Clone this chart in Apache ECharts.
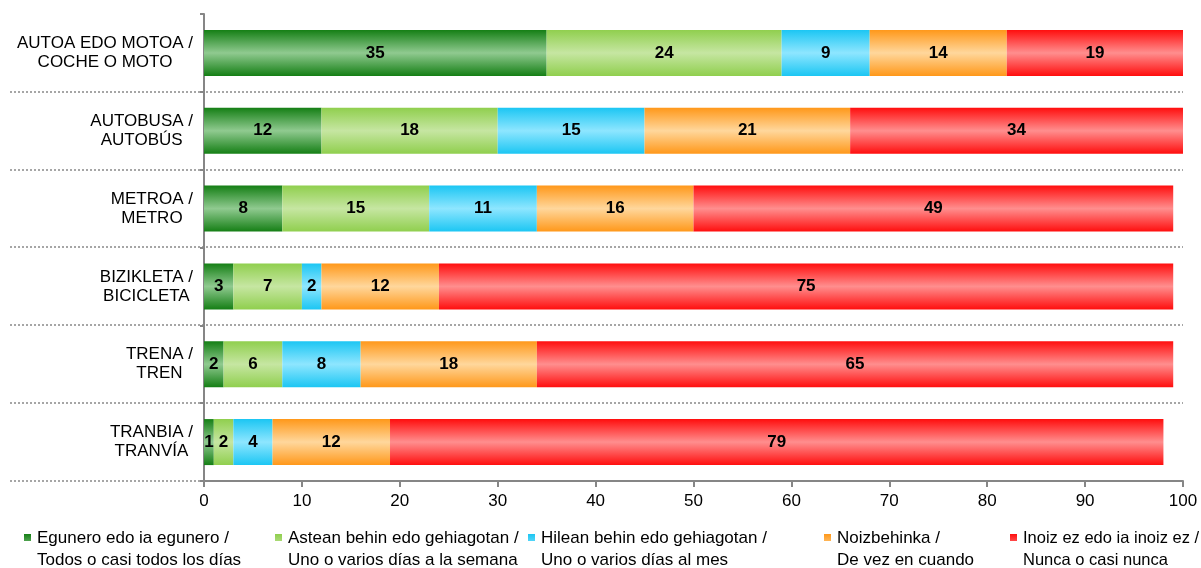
<!DOCTYPE html>
<html>
<head>
<meta charset="utf-8">
<script src="https://cdn.jsdelivr.net/npm/echarts@6/dist/echarts.min.js"></script>
<style>
  html, body { margin: 0; padding: 0; background: #fff; }
  #chart { width: 1201px; height: 568px; }
</style>
</head>
<body>
<div id="chart"></div>
<script>
// Garraio-moduak: erabilera-maiztasuna (%)
const categories = [
  'AUTOA EDO MOTOA /\nCOCHE O MOTO',
  'AUTOBUSA /\nAUTOBÚS',
  'METROA /\nMETRO',
  'BIZIKLETA /\nBICICLETA',
  'TRENA /\nTREN',
  'TRANBIA /\nTRANVÍA'
];

const seriesNames = [
  'Egunero edo ia egunero /\nTodos o casi todos los días',
  'Astean behin edo gehiagotan /\nUno o varios días a la semana',
  'Hilean behin edo gehiagotan /\nUno o varios días al mes',
  'Noizbehinka /\nDe vez en cuando',
  'Inoiz ez edo ia inoiz ez /\nNunca o casi nunca'
];

const daily   = [35, 12, 8, 3, 2, 1];
const weekly  = [24, 18, 15, 7, 6, 2];
const monthly = [9, 15, 11, 2, 8, 4];
const sometimes = [14, 21, 16, 12, 18, 12];
const never   = [19, 34, 49, 75, 65, 79];

const xTicks = [0, 10, 20, 30, 40, 50, 60, 70, 80, 90, 100];

// ertzeko kolorea / erdiko kolorea
const palette = [
  ['#157f15', '#90ca90'],
  ['#90cf4e', '#c6e6a2'],
  ['#1cc6f3', '#8ee6ff'],
  ['#ff981a', '#ffd79c'],
  ['#ff0e0e', '#ff8e8e']
];

// legendako testu-kutxen zabalera (Excel-eko kokapena imitatzeko)
const legendTextWidths = [238, 240, 283, 173, 170];

const FONT = 'Liberation Sans, Arial, sans-serif';

function grad(p) {
  return new echarts.graphic.LinearGradient(0, 0, 0, 1, [
    { offset: 0, color: p[0] },
    { offset: 0.5, color: p[1] },
    { offset: 1, color: p[0] }
  ]);
}

const values = [daily, weekly, monthly, sometimes, never];

const series = values.map((vals, i) => ({
  name: seriesNames[i],
  type: 'bar',
  stack: 'total',
  barWidth: 46,
  data: vals,
  itemStyle: { color: grad(palette[i]) },
  label: {
    show: true,
    position: 'inside',
    color: '#000',
    fontFamily: FONT,
    fontWeight: 'bold',
    fontSize: 17
  },
  emphasis: { disabled: true }
}));

const chart = echarts.init(document.getElementById('chart'));

const option = {
  animation: false,
  backgroundColor: '#fff',
  grid: { left: 204, right: 18, top: 14, bottom: 87 },
  xAxis: {
    type: 'value',
    min: xTicks[0],
    max: xTicks[xTicks.length - 1],
    interval: 10,
    axisLine: { show: true, lineStyle: { color: '#868686', width: 2 } },
    axisTick: { show: true, length: 6, lineStyle: { color: '#868686', width: 2 } },
    splitLine: { show: false },
    axisLabel: { color: '#000', fontFamily: FONT, fontSize: 17, margin: 12 }
  },
  yAxis: {
    type: 'category',
    inverse: true,
    data: categories,
    axisLine: { show: true, lineStyle: { color: '#868686', width: 2 } },
    axisTick: { show: true, length: 4, lineStyle: { color: '#868686', width: 2 } },
    splitLine: { show: false },
    axisLabel: {
      color: '#000',
      fontFamily: FONT,
      fontSize: 17,
      margin: 11,
      align: 'right',
      formatter: v => '{c|' + v + '}',
      rich: { c: { align: 'center', fontFamily: FONT, fontSize: 17, lineHeight: 19, color: '#000' } }
    }
  },
  legend: {
    orient: 'horizontal',
    top: 527,
    left: 24,
    width: 1200,
    padding: 0,
    itemGap: 0,
    itemWidth: 7,
    itemHeight: 30,
    icon: 'path://M0,0L7,0L7,7L0,7Z M0,30L7,30',
    textStyle: { color: '#000', fontFamily: FONT, fontSize: 17, lineHeight: 22, padding: [0, 0, 0, 1] },
    selectedMode: false,
    data: seriesNames.map((n, i) => ({
      name: n,
      textStyle: i === seriesNames.length - 1
        ? { width: legendTextWidths[i], fontSize: 16.5, lineHeight: 22 }
        : { width: legendTextWidths[i] }
    }))
  },
  series: series
};

chart.setOption(option);

// kategoria-mugetako marra puntuatuak (ardatzaren ezkerraldera ere luzatzen dira)
function drawSeparators() {
  const c0 = chart.convertToPixel({ yAxisIndex: 0 }, categories[0]);
  const c1 = chart.convertToPixel({ yAxisIndex: 0 }, categories[1]);
  const band = c1 - c0;
  const xEnd = chart.convertToPixel({ xAxisIndex: 0 }, xTicks[xTicks.length - 1]);
  const lines = [];
  for (let i = 1; i <= categories.length; i++) {
    const y = Math.round(c0 - band / 2 + band * i);
    lines.push({
      type: 'line',
      z: 0,
      shape: { x1: 10, y1: y, x2: i === categories.length ? 204 : xEnd, y2: y },
      style: { stroke: '#a6a6a6', lineWidth: 2, lineDash: [2, 2] },
      silent: true
    });
  }
  chart.setOption({ graphic: lines });
}
drawSeparators();
</script>
</body>
</html>
